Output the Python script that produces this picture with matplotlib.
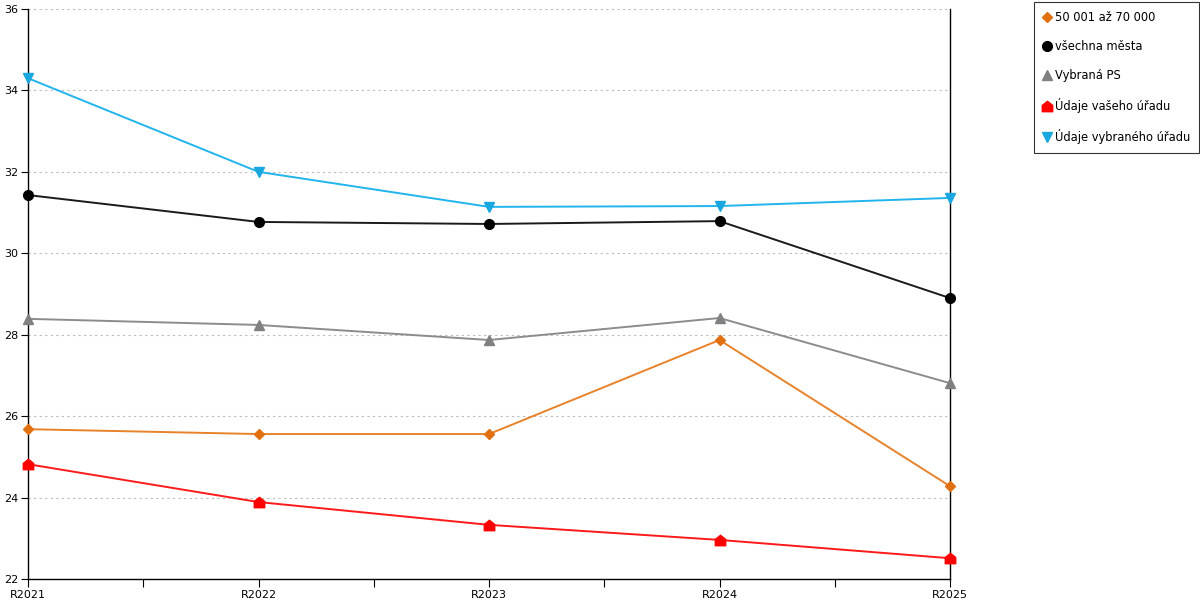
import numpy as np
import matplotlib
matplotlib.use('Agg')
import matplotlib.pyplot as plt
from matplotlib.path import Path
from matplotlib.ticker import MultipleLocator

years = ['R2021', 'R2022', 'R2023', 'R2024', 'R2025']
s_50_70 = [25.68, 25.56, 25.56, 27.87, 24.28]
s_vsechna = [31.43, 30.77, 30.72, 30.79, 28.90]
s_ps = [28.39, 28.24, 27.87, 28.41, 26.81]
s_vas = [24.82, 23.89, 23.33, 22.96, 22.51]
s_vybrany = [34.30, 32.00, 31.14, 31.16, 31.36]

# marker shaped like a little house
house = Path([(-1, -1), (1, -1), (1, 0.2), (0, 1), (-1, 0.2), (-1, -1)],
             [Path.MOVETO, Path.LINETO, Path.LINETO, Path.LINETO, Path.LINETO, Path.CLOSEPOLY])

plt.rcParams['font.family'] = ['DejaVu Sans']
fig = plt.figure(figsize=(12, 6), dpi=100, facecolor='w')
ax = fig.add_axes([28 / 1200, 1 - 579 / 600, (950 - 28) / 1200, 570 / 600])

x = np.arange(len(years))
series = [
    ('50 001 až 70 000', s_50_70, '#E8822A', '#E07010', 'D', 5),
    ('všechna města', s_vsechna, '#1a1a1a', '#000000', 'o', 7),
    ('Vybraná PS', s_ps, '#8c8c8c', '#808080', '^', 7),
    ('Údaje vašeho úřadu', s_vas, '#FF1a1a', '#FF0000', house, 7.5),
    ('Údaje vybraného úřadu', s_vybrany, '#22B4EC', '#1AA7E0', 'v', 7),
]
for label, vals, lc, mc, mk, ms in series:
    ax.plot(x, vals, color=lc, lw=1.4, marker=mk, markersize=ms,
            markerfacecolor=mc, markeredgecolor=mc, label=label, clip_on=False, zorder=3)

ax.set_xlim(0, 4)
ax.set_ylim(22, 36)
ax.yaxis.set_major_locator(MultipleLocator(2))
ax.set_xticks(x)
ax.set_xticklabels(years)
ax.set_xticks(x[:-1] + 0.5, minor=True)
ax.tick_params(axis='x', which='both', length=6, width=0.8, labelsize=8, pad=2, direction='out')
ax.tick_params(axis='y', length=5, width=0.8, labelsize=8, pad=2)
ax.grid(axis='y', ls=(0, (2, 3)), color='#bbbbbb', lw=0.8)
ax.spines['top'].set_visible(False)
for s in ['left', 'right', 'bottom']:
    ax.spines[s].set_linewidth(1.0)
    ax.spines[s].set_color('black')

leg = fig.legend(loc='upper left', bbox_to_anchor=(1034 / 1200, 1 - 2 / 600), fontsize=8.3,
                 frameon=True, fancybox=False, edgecolor='black', handlelength=0.7,
                 handletextpad=0.3, labelspacing=1.38, borderpad=0.8, borderaxespad=0)
for h in leg.legend_handles:
    h.set_linestyle('none')
leg.get_frame().set_linewidth(0.8)

fig.savefig('out.png', dpi=100)
